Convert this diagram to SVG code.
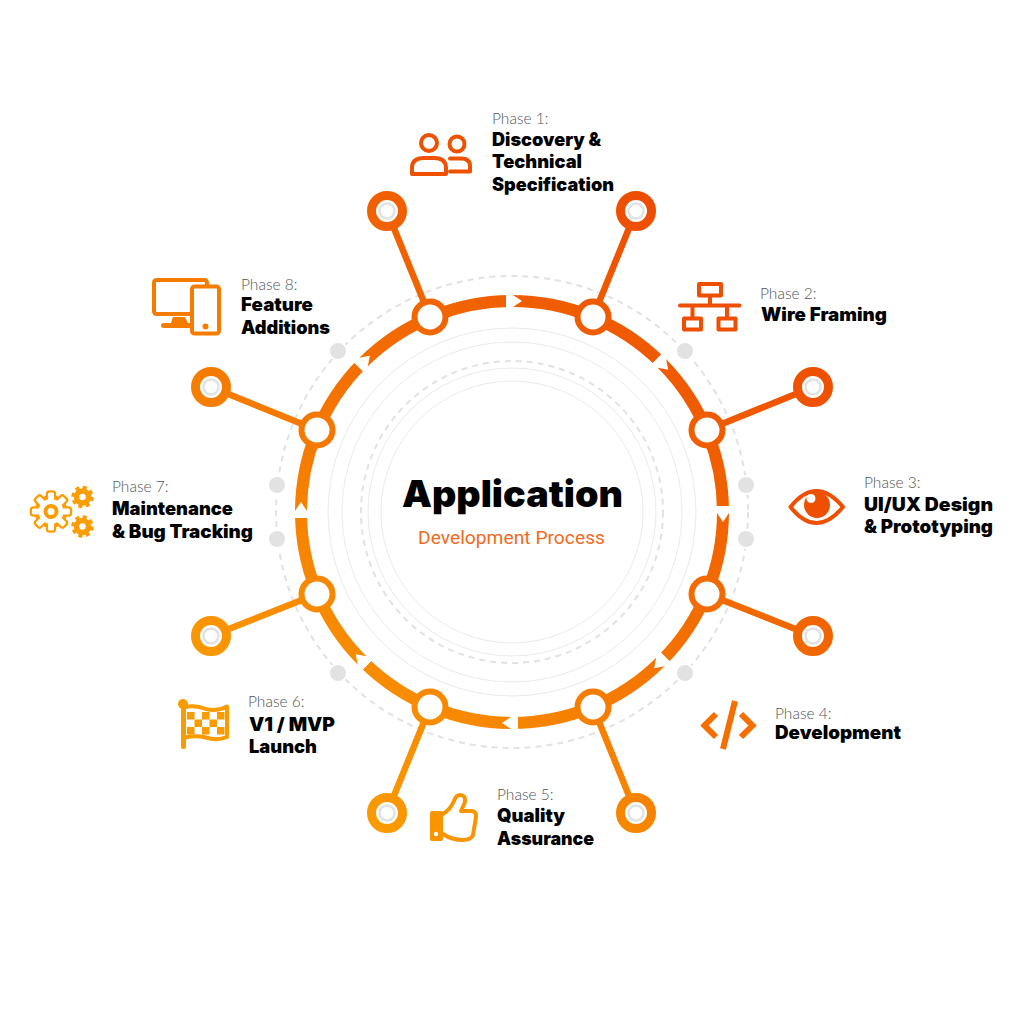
<svg xmlns="http://www.w3.org/2000/svg" width="1024" height="1024" viewBox="0 0 1024 1024">
<style>
.ph{font-family:"Lato","Roboto",sans-serif;font-weight:300;font-size:15.5px;fill:#555}
.tt{font-family:"Inter","Lato",sans-serif;font-weight:900;font-size:18.5px;fill:#000}
.ln{fill:none;stroke:#ebebeb;stroke-width:1}
.ds{fill:none;stroke:#e2e2e2;stroke-width:2;stroke-dasharray:6 5}
.dot{fill:#e2e2e2;stroke:#fff;stroke-width:2}
.j{fill:#fff;stroke:url(#g);stroke-width:6}
.e{fill:#fff;stroke:url(#g);stroke-width:9}
.e2{fill:#fff;stroke:#e2e2e2;stroke-width:2.5}
.st{fill:none;stroke:url(#g);stroke-width:6.5}
.ic{fill:none;stroke-width:4;stroke-linejoin:round;stroke-linecap:round}
</style>
<defs>
<linearGradient id="g" gradientUnits="userSpaceOnUse" x1="740" y1="240" x2="300" y2="780">
<stop offset="0" stop-color="#ed4a00"/><stop offset="0.5" stop-color="#f37000"/><stop offset="1" stop-color="#fb9c00"/>
</linearGradient>
<polygon id="gap" points="506,292 513,292 513,295 522,301 513,307 513,310 506,310" fill="#fff"/>
<rect id="to" x="-3" y="-19" width="6" height="8" rx="1.500" fill="#fff" stroke="#fb9c00" stroke-width="4.500"/>
<rect id="ti" x="-3" y="-19" width="6" height="8" rx="1.500" fill="#fff"/>
</defs>
<rect width="1024" height="1024" fill="#fff"/>
<g id="rings">
<circle class="ln" cx="512" cy="512" r="131"/>
<circle class="ln" cx="512" cy="512" r="144"/>
<circle class="ds" cx="512" cy="512" r="151"/>
<circle class="ln" cx="512" cy="512" r="170"/>
<circle class="ln" cx="512" cy="512" r="184"/>
<circle class="ds" cx="512" cy="512" r="236"/>
<circle class="dot" cx="685" cy="351" r="9"/>
<circle class="dot" cx="746" cy="485" r="9"/>
<circle class="dot" cx="746" cy="539" r="9"/>
<circle class="dot" cx="685" cy="673" r="9"/>
<circle class="dot" cx="338" cy="673" r="9"/>
<circle class="dot" cx="277" cy="539" r="9"/>
<circle class="dot" cx="277" cy="485" r="9"/>
<circle class="dot" cx="338" cy="351" r="9"/>
</g>
<g id="connectors">
<circle cx="512" cy="512" r="211" fill="none" stroke="url(#g)" stroke-width="12"/>
<use href="#gap"/>
<use href="#gap" transform="rotate(45 512 512)"/>
<use href="#gap" transform="rotate(90 512 512)"/>
<use href="#gap" transform="rotate(135 512 512)"/>
<use href="#gap" transform="rotate(180 512 512)"/>
<use href="#gap" transform="rotate(225 512 512)"/>
<use href="#gap" transform="rotate(270 512 512)"/>
<use href="#gap" transform="rotate(315 512 512)"/>
<path class="st" d="M636 211L593 317M813 387L707 430M813 636L707 594M636 813L593 707M387 813L430 707M211 636L317 594M211 387L317 430M387 211L430 317"/>
</g>
<g id="phase1">
<circle class="j" cx="593" cy="317" r="15.5"/><circle class="e" cx="636" cy="211" r="15.5"/><circle class="e2" cx="636" cy="211" r="7.5"/>
<circle class="j" cx="430" cy="317" r="15.5"/><circle class="e" cx="387" cy="211" r="15.5"/><circle class="e2" cx="387" cy="211" r="7.5"/>
<g class="ic" stroke="#ee5200"><circle cx="429" cy="143" r="8"/><path d="M412 174V168Q412 158 424 158H434Q446 158 446 168V174Z"/><circle cx="457" cy="144" r="7.500"/><path d="M450 158.500H461Q470 158.500 470 166V171.500H450"/></g>
<text class="ph" x="492" y="124">Phase 1:</text>
<text class="tt" x="492" y="146" textLength="109" lengthAdjust="spacingAndGlyphs">Discovery &amp;</text>
<text class="tt" x="492" y="168" textLength="90" lengthAdjust="spacingAndGlyphs">Technical</text>
<text class="tt" x="492" y="191" textLength="122" lengthAdjust="spacingAndGlyphs">Specification</text>
</g>
<g id="phase2">
<circle class="j" cx="707" cy="430" r="15.5"/><circle class="e" cx="813" cy="387" r="15.5"/><circle class="e2" cx="813" cy="387" r="7.5"/>
<g class="ic" stroke="#ee4f00"><rect x="699" y="284" width="22" height="11.500"/><rect x="684" y="318.500" width="17" height="11"/><rect x="718.500" y="318.500" width="17" height="11"/><path d="M710 296V305M680 305.500H739.500M692.500 306V317M727 306V317"/></g>
<text class="ph" x="760" y="299">Phase 2:</text>
<text class="tt" x="761" y="321" textLength="126" lengthAdjust="spacingAndGlyphs">Wire Framing</text>
</g>
<g id="phase3">
<circle class="j" cx="707" cy="594" r="15.5"/><circle class="e" cx="813" cy="636" r="15.5"/><circle class="e2" cx="813" cy="636" r="7.5"/>
<path fill="none" stroke="#ee4f00" stroke-width="4" stroke-linejoin="round" d="M790.500 507C800 495 808 491 816.500 491C825 491 833 495 843 507C833 519 825 523 816.500 523C808 523 800 519 790.500 507Z"/>
<circle cx="817" cy="505" r="13" fill="#ee4f00"/><circle cx="811" cy="498.500" r="4.500" fill="#fff"/>
<text class="ph" x="864" y="488">Phase 3:</text>
<text class="tt" x="864" y="511" textLength="129" lengthAdjust="spacingAndGlyphs">UI/UX Design</text>
<text class="tt" x="864" y="533" textLength="129" lengthAdjust="spacingAndGlyphs">&amp; Prototyping</text>
</g>
<g id="phase4">
<circle class="j" cx="593" cy="707" r="15.5"/><circle class="e" cx="636" cy="813" r="15.5"/><circle class="e2" cx="636" cy="813" r="7.5"/>
<path fill="none" stroke="#f46e00" stroke-width="6" stroke-linejoin="miter" d="M716 714L704.500 725.500L716 737M741 714L752.500 725.500L741 737M735 701L723 749"/>
<text class="ph" x="775" y="719">Phase 4:</text>
<text class="tt" x="775" y="739" textLength="126" lengthAdjust="spacingAndGlyphs">Development</text>
</g>
<g id="phase5">
<circle class="j" cx="430" cy="707" r="15.5"/><circle class="e" cx="387" cy="813" r="15.5"/><circle class="e2" cx="387" cy="813" r="7.5"/>
<rect x="430" y="811" width="13" height="30" rx="2" fill="#f99500"/><circle cx="436" cy="834" r="2.200" fill="#fff"/>
<path class="ic" stroke="#f99500" d="M443 814Q450 810 454 801Q456 795 460 795Q466 795 465 802L461 811H472Q477 812 476 817L473 835Q471 840 463 840Q452 840 443 834"/>
<text class="ph" x="497" y="800">Phase 5:</text>
<text class="tt" x="497" y="822" textLength="68" lengthAdjust="spacingAndGlyphs">Quality</text>
<text class="tt" x="497" y="845" textLength="97" lengthAdjust="spacingAndGlyphs">Assurance</text>
</g>
<g id="phase6">
<circle class="j" cx="317" cy="594" r="15.500"/><circle class="e" cx="211" cy="636" r="15.5"/><circle class="e2" cx="211" cy="636" r="7.5"/>
<g fill="#fa9c00"><circle cx="183" cy="704" r="5"/><rect x="181" y="703" width="5" height="46" rx="2"/>
<rect x="187" y="712" width="7.500" height="7.500"/><rect x="202" y="712" width="7.500" height="7.500"/><rect x="217" y="712" width="7.500" height="7.500"/>
<rect x="194.500" y="719.500" width="7.500" height="7.500"/><rect x="209.500" y="719.500" width="7.500" height="7.500"/>
<rect x="187" y="727" width="7.500" height="7.500"/><rect x="202" y="727" width="7.500" height="7.500"/><rect x="217" y="727" width="7.500" height="7.500"/></g>
<path class="ic" stroke="#fa9c00" d="M185 707Q196 705 206 709Q217 712 227 706.500V737Q217 741 206 737.500Q196 735 185 737.500"/>
<text class="ph" x="248" y="707">Phase 6:</text>
<text class="tt" x="249" y="731" textLength="86" lengthAdjust="spacingAndGlyphs">V1 / MVP</text>
<text class="tt" x="249" y="753" textLength="68" lengthAdjust="spacingAndGlyphs">Launch</text>
</g>
<g id="phase7">
<circle class="j" cx="317" cy="430" r="15.500"/><circle class="e" cx="211" cy="387" r="15.5"/><circle class="e2" cx="211" cy="387" r="7.5"/>
<g transform="translate(51 511.500)">
<use href="#to"/><use href="#to" transform="rotate(45)"/><use href="#to" transform="rotate(90)"/><use href="#to" transform="rotate(135)"/><use href="#to" transform="rotate(180)"/><use href="#to" transform="rotate(225)"/><use href="#to" transform="rotate(270)"/><use href="#to" transform="rotate(315)"/>
<circle r="16.500" fill="#fb9c00"/>
<use href="#ti"/><use href="#ti" transform="rotate(45)"/><use href="#ti" transform="rotate(90)"/><use href="#ti" transform="rotate(135)"/><use href="#ti" transform="rotate(180)"/><use href="#ti" transform="rotate(225)"/><use href="#ti" transform="rotate(270)"/><use href="#ti" transform="rotate(315)"/>
<circle r="12.500" fill="#fff"/><circle r="5.500" fill="none" stroke="#fb9c00" stroke-width="4"/>
</g>
<g fill="none" stroke="#fb9c00">
<circle cx="82.500" cy="497" r="6" stroke-width="5.500"/><circle cx="82.500" cy="497" r="9.500" stroke-width="3.500" stroke-dasharray="4 3.460"/>
<circle cx="82.500" cy="526.500" r="6" stroke-width="5.500"/><circle cx="82.500" cy="526.500" r="9.500" stroke-width="3.500" stroke-dasharray="4 3.460"/>
</g>
<text class="ph" x="112" y="492">Phase 7:</text>
<text class="tt" x="112" y="515" textLength="121" lengthAdjust="spacingAndGlyphs">Maintenance</text>
<text class="tt" x="112" y="538" textLength="141" lengthAdjust="spacingAndGlyphs">&amp; Bug Tracking</text>
</g>
<g id="phase8">
<g class="ic" stroke="#f57c00"><path d="M190 314H157Q154 314 154 311V283Q154 280 157 280H204Q207 280 207 283V286"/><rect x="192" y="286.500" width="27" height="47" rx="2.500"/></g>
<path fill="#f57c00" d="M173 317H185L188 323H191V328H164Q161 328 161 325.500Q161 323 164 323H171Z"/><circle cx="205.500" cy="326.500" r="3" fill="#f57c00"/>
<text class="ph" x="241" y="290">Phase 8:</text>
<text class="tt" x="241" y="311" textLength="72" lengthAdjust="spacingAndGlyphs">Feature</text>
<text class="tt" x="241" y="334" textLength="89" lengthAdjust="spacingAndGlyphs">Additions</text>
</g>
<g id="center">
<text x="512.500" y="507" text-anchor="middle" font-family="Inter,Lato,sans-serif" font-weight="900" font-size="37" textLength="221" lengthAdjust="spacingAndGlyphs">Application</text>
<text x="511.500" y="544" text-anchor="middle" font-family="Roboto,sans-serif" font-size="18.500" fill="#f26a22" textLength="187" lengthAdjust="spacingAndGlyphs">Development Process</text>
</g>
</svg>
